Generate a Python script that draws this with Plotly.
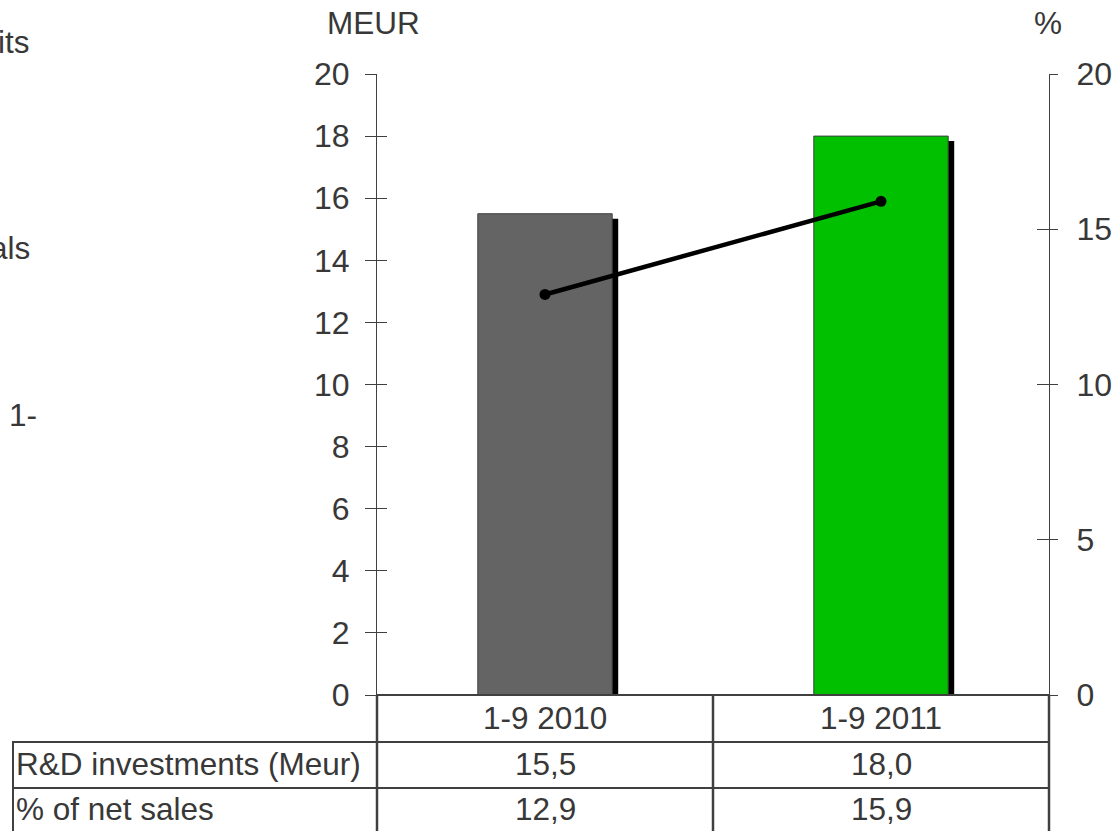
import plotly.graph_objects as go

# Data
periods = ["1-9 2010", "1-9 2011"]
rd_investments = [15.5, 18.0]        # MEUR
pct_of_net_sales = [12.9, 15.9]      # %
row_labels = ["R&D investments (Meur)", "% of net sales"]
left_ticks = [0, 2, 4, 6, 8, 10, 12, 14, 16, 18, 20]
right_ticks = [0, 5, 10, 15, 20]
side_texts = ["its", "als", "1-"]

# Styling
W, H = 1118, 831
ML, MR, MT, MB = 377, 69, 74, 136
PW, PH = W - ML - MR, H - MT - MB
TXT = "#383838"
LINE = "#404040"
FONT = "Liberation Sans, Arial, sans-serif"
FS = 31.5
TICK_FS = 32
bar_colors = ["#646464", "#00C000"]
BAR_W = 0.4
SHADOW_DX = 6 / (PW / 2)    # shadow shift, category units
SHADOW_DY = 5 / (PH / 20)   # shadow shift, MEUR units

xs = list(range(len(periods)))


def px_x(p):
    return (p - ML) / PW


def px_y(p):
    return (H - MB - p) / PH


fig = go.Figure()

# drop shadow behind the bars
fig.add_trace(go.Bar(
    x=xs, y=rd_investments, base=[-SHADOW_DY] * len(xs),
    width=BAR_W, offset=-BAR_W / 2 + SHADOW_DX,
    marker=dict(color="#000000", line=dict(width=0)),
    hoverinfo="skip", showlegend=False,
))
# R&D investment bars
fig.add_trace(go.Bar(
    x=xs, y=rd_investments, width=BAR_W, offset=-BAR_W / 2,
    marker=dict(color=bar_colors, line=dict(color=LINE, width=1)),
    showlegend=False,
))
# % of net sales line on the right axis
fig.add_trace(go.Scatter(
    x=xs, y=pct_of_net_sales, yaxis="y2", mode="lines+markers",
    line=dict(color="#000000", width=4.5),
    marker=dict(color="#000000", size=11),
    showlegend=False,
))

axis_common = dict(range=[0, 20], showgrid=False, zeroline=False, automargin=False,
                   tickfont=dict(family=FONT, size=TICK_FS, color=TXT),
                   linecolor=LINE, tickcolor=LINE, tickwidth=1)

fig.update_layout(
    width=W, height=H,
    margin=dict(l=ML, r=MR, t=MT, b=MB, pad=0, autoexpand=False),
    paper_bgcolor="white", plot_bgcolor="white",
    barmode="overlay",
    font=dict(family=FONT, size=FS, color=TXT),
    xaxis=dict(range=[-0.5, len(xs) - 0.5], showgrid=False, zeroline=False,
               automargin=False, showticklabels=False, ticks="", showline=True,
               linecolor=LINE, linewidth=1),
    yaxis=dict(**axis_common, tickvals=left_ticks, ticks="outside", ticklen=11,
               showline=True, linewidth=1, ticklabelstandoff=9),
    yaxis2=dict(**axis_common, tickvals=right_ticks, ticks="outside", ticklen=8,
                overlaying="y", side="right", anchor="x",
                showline=True, linewidth=1, ticklabelstandoff=12),
    # inner halves of the crossing tick marks
    yaxis3=dict(**axis_common, tickvals=left_ticks, ticks="inside", ticklen=10,
                overlaying="y", side="left", anchor="x",
                showline=False, showticklabels=False),
    yaxis4=dict(**axis_common, tickvals=right_ticks, ticks="inside", ticklen=12,
                overlaying="y", side="right", anchor="x",
                showline=False, showticklabels=False),
)

# dummy traces so the tick-only axes are drawn
fig.add_trace(go.Scatter(x=[None], y=[None], yaxis="y3", showlegend=False))
fig.add_trace(go.Scatter(x=[None], y=[None], yaxis="y4", showlegend=False))

annotations = []
# axis unit labels
annotations.append(dict(text="MEUR", xref="paper", yref="paper", x=px_x(373),
                        y=px_y(23), xanchor="center", yanchor="middle",
                        showarrow=False, font=dict(size=FS, color=TXT, family=FONT)))
annotations.append(dict(text="%", xref="paper", yref="paper", x=px_x(1048),
                        y=px_y(23), xanchor="center", yanchor="middle",
                        showarrow=False, font=dict(size=FS, color=TXT, family=FONT)))

# data table under the chart
row_y = [px_y(718), px_y(764), px_y(809)]
for i, p in enumerate(periods):
    annotations.append(dict(text=p, x=xs[i], xref="x", y=row_y[0], yref="paper",
                            xanchor="center", yanchor="middle", showarrow=False))
    annotations.append(dict(text=f"{rd_investments[i]:.1f}".replace(".", ","),
                            x=xs[i], xref="x", y=row_y[1], yref="paper",
                            xanchor="center", yanchor="middle", showarrow=False))
    annotations.append(dict(text=f"{pct_of_net_sales[i]:.1f}".replace(".", ","),
                            x=xs[i], xref="x", y=row_y[2], yref="paper",
                            xanchor="center", yanchor="middle", showarrow=False))
for lbl, yy in zip(row_labels, row_y[1:]):
    annotations.append(dict(text=lbl, xref="paper", x=px_x(14), y=yy, yref="paper",
                            xanchor="left", yanchor="middle", showarrow=False))

# partial text at the left page edge
for t, (xr, yc) in zip(side_texts, [(32, 42), (32, 248), (39, 415)]):
    annotations.append(dict(text=t, xref="paper", yref="paper", x=px_x(xr), y=px_y(yc),
                            xanchor="right", yanchor="middle", showarrow=False))

fig.update_layout(annotations=annotations)

# table grid
shapes = []
y_bottom = px_y(H + 2)
for xp in [0, 0.5, 1]:
    shapes.append(dict(type="line", xref="paper", yref="paper", x0=xp, x1=xp,
                       y0=0, y1=y_bottom, line=dict(color=LINE, width=2.5)))
shapes.append(dict(type="line", xref="paper", yref="paper", x0=0, x1=1,
                   y0=0, y1=0, line=dict(color=LINE, width=2)))
for yp in [742, 788]:
    shapes.append(dict(type="line", xref="paper", yref="paper", x0=px_x(12), x1=1,
                       y0=px_y(yp), y1=px_y(yp), line=dict(color=LINE, width=2)))
shapes.append(dict(type="line", xref="paper", yref="paper", x0=px_x(13), x1=px_x(13),
                   y0=px_y(742), y1=y_bottom, line=dict(color=LINE, width=2)))
fig.update_layout(shapes=shapes)

fig.write_html("out.html")
